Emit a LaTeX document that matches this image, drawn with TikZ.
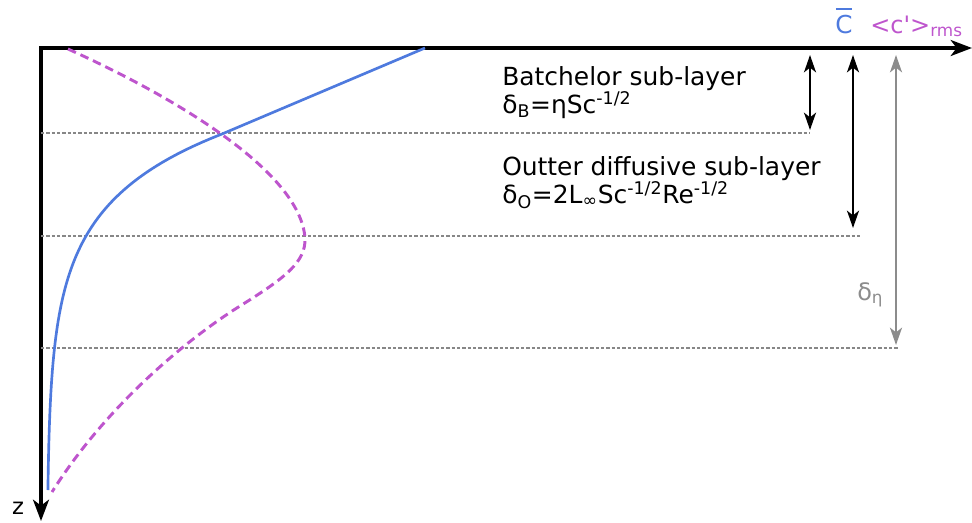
\documentclass[tikz,border=0pt]{standalone}
\usepackage{fontspec}
\setmainfont{DejaVu Sans}
\usetikzlibrary{arrows.meta}
\definecolor{cblue}{RGB}{78,122,222}
\definecolor{cpurp}{RGB}{190,85,205}
\definecolor{cgray}{RGB}{140,140,140}
\definecolor{cdot}{RGB}{135,135,135}
\begin{document}
\begin{tikzpicture}[x=0.75pt,y=-0.75pt,
  axis/.style={line width=2.4pt,-{Stealth[length=16pt,width=12pt,inset=4.5pt]}},
  sep/.style={cdot,line width=1.1pt,dash pattern=on 2.5pt off 1.5pt},
  darr/.style={line width=1.6pt,{Stealth[length=13pt,width=9pt,inset=3.5pt]}-{Stealth[length=13pt,width=9pt,inset=3.5pt]}},
  lbl/.style={font=\fontsize{18.7}{22}\selectfont,anchor=base west,inner sep=0pt}]
\useasboundingbox (0,0) rectangle (972,522);
% axes
\coordinate (O) at (41,48);
\coordinate (xe) at (972,48);
\coordinate (ze) at (41,521);
\draw[axis] ([xshift=-1.2pt]O) -- (xe);
\draw[axis] ([yshift=-1.2pt]O) -- (ze);
% separators
\coordinate (s1a) at (41,133); \coordinate (s1b) at (810,133);
\coordinate (s2a) at (41,236); \coordinate (s2b) at (860,236);
\coordinate (s3a) at (41,348); \coordinate (s3b) at (898,348);
\draw[sep] (s1a) -- (s1b);
\draw[sep] (s2a) -- (s2b);
\draw[sep] (s3a) -- (s3b);
% mean profile
\coordinate (bt) at (425,48);
\coordinate (bm) at (222,134);
\draw[cblue,line width=2pt,line join=round] (bt) -- (bm)
  -- plot[domain=134:490,samples=90,variable=\t] ({47+175*exp(-(\t-134)/68)},\t);
% rms profile
\draw[cpurp,line width=2.2pt,dash pattern=on 6.5pt off 3.8pt] (68,49)
  .. controls (170,95) and (300,170) .. (305,238)
  .. controls (306,262) and (285,278) .. (240,306)
  .. controls (195,334) and (110,400) .. (52,492);
% arrows
\coordinate (a1t) at (810,55); \coordinate (a1b) at (810,130);
\coordinate (a2t) at (853,55); \coordinate (a2b) at (853,228);
\coordinate (a3t) at (896,55); \coordinate (a3b) at (896,345);
\draw[darr] (a1t) -- (a1b);
\draw[darr] (a2t) -- (a2b);
\draw[darr,cgray] (a3t) -- (a3b);
% labels
\node[lbl] (tB1) at (502,85) {Batchelor sub-layer};
\node[lbl] (tB2) at (502,113) {δ\textsubscript{B}=ηSc\textsuperscript{-1/2}};
\node[lbl] (tO1) at (502,175) {Outter diffusive sub-layer};
\node[lbl] (tO2) at (502,203) {δ\textsubscript{O}=2L\textsubscript{∞}Sc\textsuperscript{-1/2}Re\textsuperscript{-1/2}};
\node[font=\fontsize{18}{20}\selectfont,text=cgray,inner sep=0pt,anchor=base west] (deta) at (857,300) {δ\textsubscript{η}};
\node[font=\fontsize{17}{19}\selectfont,inner sep=0pt,anchor=base] (z) at (18,514) {z};
\node[font=\fontsize{18.5}{20}\selectfont,text=cblue,inner sep=0pt,anchor=base] (cbar) at (844,33) {C};
\draw[cblue,line width=1.6pt] ([yshift=4pt,xshift=0.5pt]cbar.north west) -- ([yshift=4pt,xshift=-0.5pt]cbar.north east);
\node[font=\fontsize{18}{20}\selectfont,text=cpurp,inner sep=0pt,anchor=base west] (crms) at (870,33) {<c\textquotesingle>\textsubscript{rms}};
\end{tikzpicture}
\end{document}
